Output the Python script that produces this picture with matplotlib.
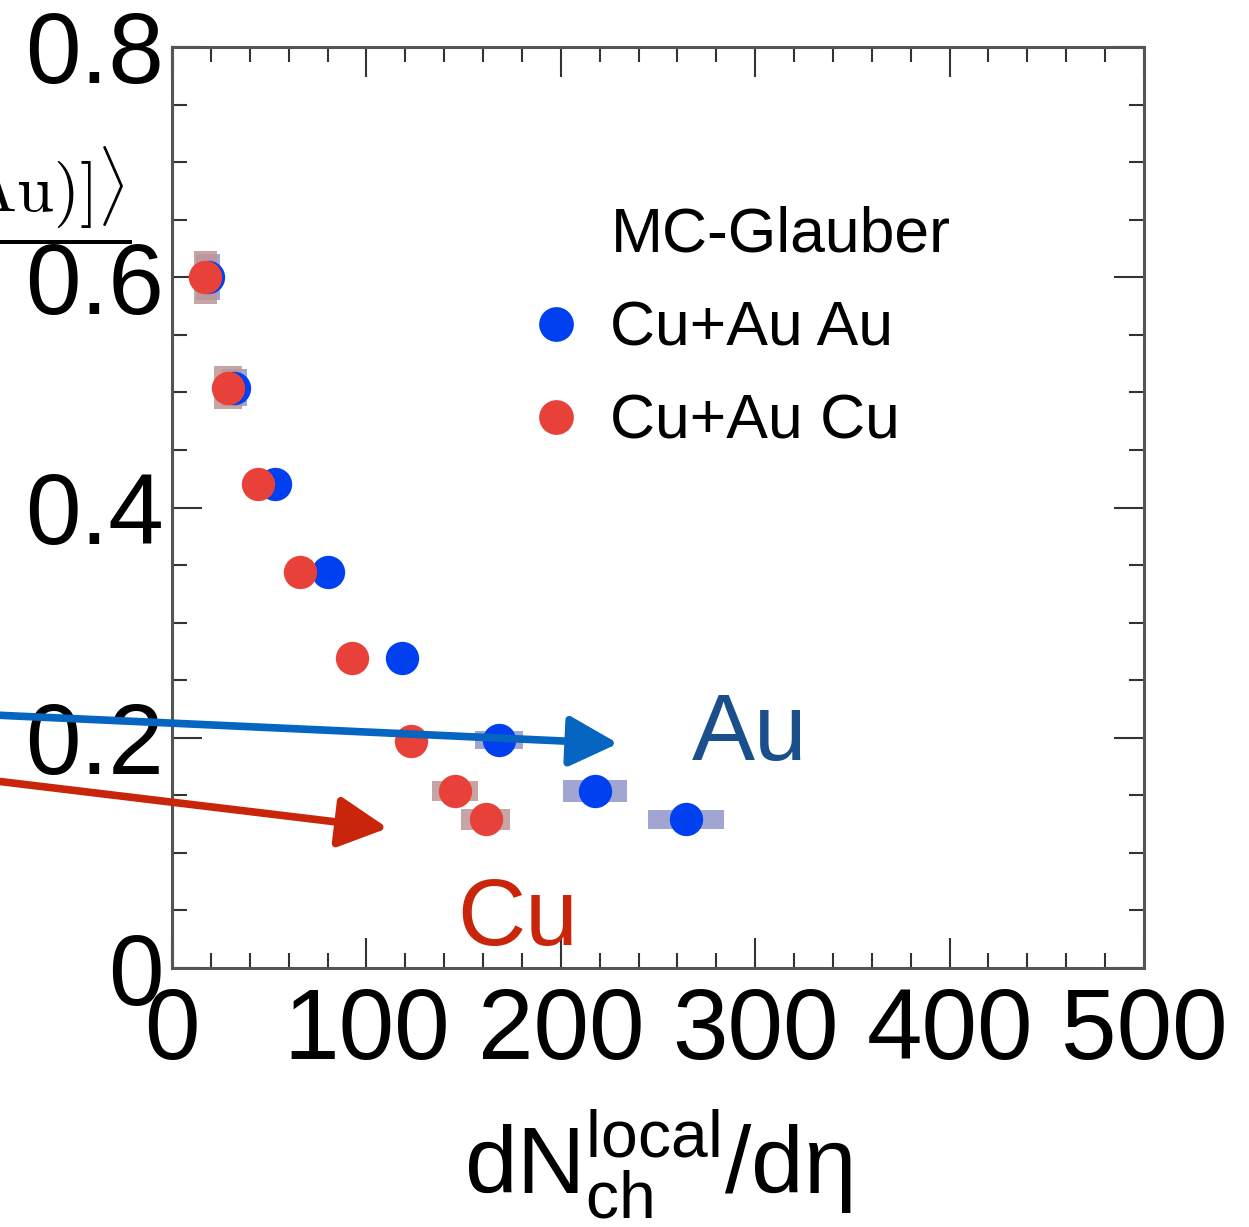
import matplotlib
matplotlib.use("Agg")
import matplotlib.pyplot as plt
from matplotlib.patches import Rectangle, FancyArrowPatch
from matplotlib.lines import Line2D
from matplotlib.ticker import MultipleLocator, FuncFormatter

plt.rcParams['font.family'] = ['Liberation Sans', 'DejaVu Sans']
plt.rcParams['mathtext.fontset'] = 'custom'
plt.rcParams['mathtext.rm'] = 'Liberation Sans'
plt.rcParams['mathtext.it'] = 'Liberation Sans:italic'
plt.rcParams['mathtext.bf'] = 'Liberation Sans:bold'

# ---------------- data ----------------
au_x = [18.5, 32.1, 53.0, 80.2, 118.2, 168.2, 217.6, 264.2]
au_y = [0.600, 0.504, 0.420, 0.344, 0.269, 0.198, 0.154, 0.129]
au_xerr = [6.0, 6.5, 4.0, 4.0, 5.0, 12.3, 16.5, 19.5]
au_yerr = [0.020, 0.016, 0.006, 0.005, 0.005, 0.008, 0.0095, 0.008]

cu_x = [17.0, 28.6, 44.2, 65.8, 92.4, 122.9, 145.6, 161.5]
cu_y = [0.600, 0.504, 0.420, 0.344, 0.269, 0.197, 0.154, 0.129]
cu_xerr = [5.9, 7.2, 3.0, 3.0, 4.0, 6.0, 12.0, 12.6]
cu_yerr = [0.023, 0.0187, 0.006, 0.005, 0.005, 0.006, 0.0087, 0.0087]

legend_title = "MC-Glauber"
au_label = "Cu+Au Au"
cu_label = "Cu+Au Cu"

x_ticks = [0, 100, 200, 300, 400, 500]
y_ticks = [0, 0.2, 0.4, 0.6, 0.8]

# arrows (data coordinates; start lies left of the axes)
blue_arrow = [(-88.5, 0.2195), (229.5, 0.195)]
red_arrow = [(-88.5, 0.162), (111.0, 0.1215)]

AU_COL = '#0040f0'
CU_COL = '#e8413a'
AU_BOX = '#8f97c9'
CU_BOX = '#bf9696'

fig = plt.figure(figsize=(12.49, 12.27), dpi=100)
ax = fig.add_axes([172/1249, 1 - 968/1227, (1144-172)/1249, (968-47)/1227])

# systematic boxes
for xs, ys, xe, ye, col in [(au_x, au_y, au_xerr, au_yerr, AU_BOX),
                            (cu_x, cu_y, cu_xerr, cu_yerr, CU_BOX)]:
    for x, y, dx, dy in zip(xs, ys, xe, ye):
        ax.add_patch(Rectangle((x - dx, y - dy), 2*dx, 2*dy, facecolor=col,
                               edgecolor='none', alpha=0.85, zorder=2))

ax.plot(au_x, au_y, 'o', color=AU_COL, markersize=24, markeredgewidth=0,
        zorder=3, label=au_label)
ax.plot(cu_x, cu_y, 'o', color=CU_COL, markersize=24, markeredgewidth=0,
        zorder=4, label=cu_label)

ax.set_xlim(0, 500)
ax.set_ylim(0, 0.8)
ax.set_xticks(x_ticks)
ax.set_yticks(y_ticks)
ax.xaxis.set_minor_locator(MultipleLocator(20))
ax.yaxis.set_minor_locator(MultipleLocator(0.05))
ax.xaxis.set_major_formatter(FuncFormatter(lambda v, p: f"{v:.0f}"))
ax.yaxis.set_major_formatter(FuncFormatter(lambda v, p: "0" if v == 0 else f"{v:.1f}"))

ax.tick_params(which='both', direction='in', top=True, right=True,
               colors='#333333', labelcolor='black', width=1.5)
ax.tick_params(which='major', length=21.5, labelsize=72)
ax.tick_params(axis='y', which='major', pad=6)
ax.tick_params(axis='x', which='major', pad=13)
ax.tick_params(which='minor', length=10.8)
for s in ax.spines.values():
    s.set_linewidth(2.2)
    s.set_color('#555555')

ax.set_xlabel('dN$^{\\mathrm{local}}_{\\mathrm{ch}}$/dη', fontsize=68, labelpad=20)

# legend
header = Line2D([], [], linestyle='none', marker='')
h_au = Line2D([], [], linestyle='none', marker='o', color=AU_COL, markersize=25, markeredgewidth=0)
h_cu = Line2D([], [], linestyle='none', marker='o', color=CU_COL, markersize=25, markeredgewidth=0)
ax.legend([header, h_au, h_cu], [legend_title, au_label, cu_label],
          loc='upper left', bbox_to_anchor=((526-172)/972, (968-206)/921),
          frameon=False, fontsize=45, handlelength=0.95, handletextpad=0.4,
          borderpad=0, borderaxespad=0, labelspacing=0.55, numpoints=1)

# annotations
ax.text(267.5, 0.1807, 'Au', color='#1a4f8c', fontsize=68, ha='left', va='baseline')
ax.text(146.5, 0.020, 'Cu', color='#c8250a', fontsize=68, ha='left', va='baseline')

for (p0, p1), col in [(blue_arrow, '#0565c0'), (red_arrow, '#c8250a')]:
    arr = FancyArrowPatch(p0, p1, arrowstyle='-|>,head_length=30,head_width=15.5',
                          mutation_scale=1, lw=5.5, color=col, shrinkA=0, shrinkB=0,
                          transform=ax.transData, zorder=6, clip_on=False)
    ax.add_patch(arr)

# y label (cut at the left edge of the picture)
ylab = (r'$\dfrac{\langle\cos[2\Psi_2(\mathrm{Cu})-2\Psi_2(\mathrm{Au})]\rangle}'
        r'{\langle\cos[2\Psi_2]\rangle}$')
fig.text(131/1249, 1 - 254/1227, ylab, fontsize=48, ha='right', va='baseline',
         math_fontfamily='cm')

fig.savefig('out.png', dpi=100)
